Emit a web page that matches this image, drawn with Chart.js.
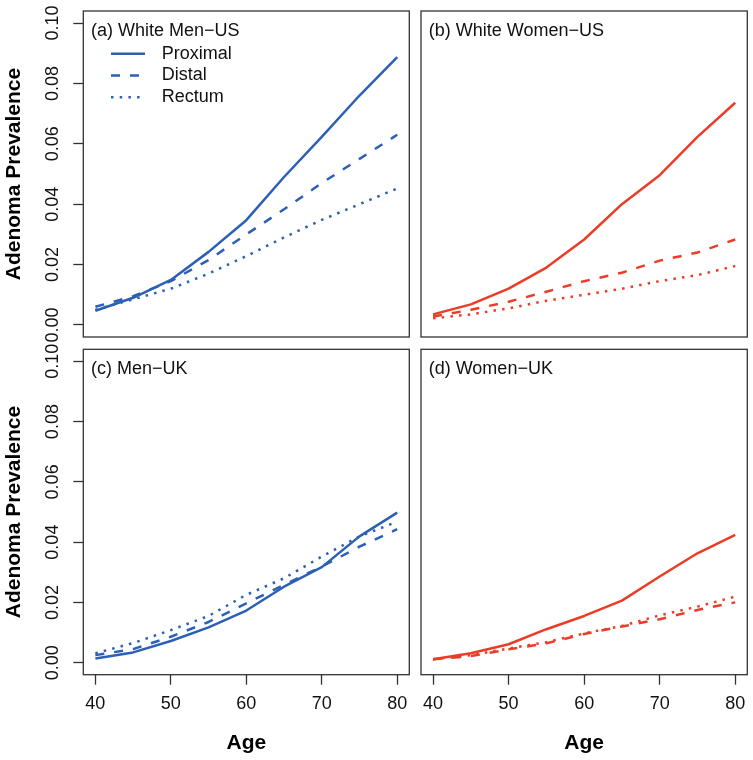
<!DOCTYPE html>
<html><head><meta charset="utf-8">
<script src="https://cdn.jsdelivr.net/npm/chart.js@4/dist/chart.umd.min.js"></script>
<style>
html,body{margin:0;padding:0;background:#fff;}
#wrap{position:relative;width:753px;height:760px;overflow:hidden;}
canvas{position:absolute;}
</style></head><body>
<div id="wrap">
<canvas id="pa" width="412" height="350" style="left:0;top:0"></canvas>
<canvas id="pb" width="341" height="350" style="left:412px;top:0"></canvas>
<canvas id="pc" width="412" height="420" style="left:0;top:340px"></canvas>
<canvas id="pd" width="341" height="420" style="left:412px;top:340px"></canvas>
</div>
<script>
// ---- data ----
const ages = [40, 45, 50, 55, 60, 65, 70, 75, 80];
const seriesNames = ['Proximal', 'Distal', 'Rectum'];
const panelTitles = ['(a) White Men\u2212US', '(b) White Women\u2212US', '(c) Men\u2212UK', '(d) Women\u2212UK'];
const yTickValues = [0.00, 0.02, 0.04, 0.06, 0.08, 0.10];
const xTickValues = [40, 50, 60, 70, 80];
const xAxisLabel = 'Age';
const yAxisLabel = 'Adenoma Prevalence';

const menUSProximal = [0.0047, 0.0090, 0.0149, 0.0242, 0.0347, 0.0490, 0.0623, 0.0760, 0.0887];
const menUSDistal   = [0.0060, 0.0095, 0.0145, 0.0215, 0.0300, 0.0383, 0.0470, 0.0550, 0.0630];
const menUSRectum   = [0.0050, 0.0085, 0.0120, 0.0170, 0.0228, 0.0290, 0.0348, 0.0400, 0.0452];

const womenUSProximal = [0.0035, 0.0068, 0.0120, 0.0190, 0.0283, 0.0400, 0.0496, 0.0623, 0.0736];
const womenUSDistal   = [0.0028, 0.0050, 0.0077, 0.0110, 0.0145, 0.0173, 0.0213, 0.0240, 0.0283];
const womenUSRectum   = [0.0022, 0.0035, 0.0055, 0.0080, 0.0100, 0.0120, 0.0145, 0.0165, 0.0195];

const menUKProximal = [0.0014, 0.0034, 0.0072, 0.0117, 0.0173, 0.0252, 0.0317, 0.0419, 0.0498];
const menUKDistal   = [0.0025, 0.0045, 0.0086, 0.0135, 0.0197, 0.0258, 0.0319, 0.0385, 0.0443];
const menUKRectum   = [0.0031, 0.0065, 0.0108, 0.0155, 0.0225, 0.0280, 0.0352, 0.0419, 0.0468];

const womenUKProximal = [0.0011, 0.0031, 0.0061, 0.0111, 0.0155, 0.0206, 0.0286, 0.0363, 0.0424];
const womenUKDistal   = [0.0011, 0.0022, 0.0044, 0.0064, 0.0095, 0.0120, 0.0144, 0.0175, 0.0200];
const womenUKRectum   = [0.0011, 0.0025, 0.0047, 0.0068, 0.0097, 0.0122, 0.0157, 0.0186, 0.0219];

// ---- styling ----
const BLUE = '#2B60B4';
const RED = '#EA3D27';
const FONT = '"Liberation Sans", Arial, Helvetica, sans-serif';
const dashes = [[], [9, 10], [2.5, 6.2]];
Chart.defaults.font.family = FONT;
Chart.defaults.color = '#111';

const panelDecor = {
  id: 'panelDecor',
  afterDatasetsDraw(chart, args, opts) {
    const {ctx, chartArea: a} = chart;
    ctx.save();
    ctx.strokeStyle = '#333';
    ctx.lineWidth = 1.3;
    ctx.setLineDash([]);
    ctx.strokeRect(a.left, a.top, a.right - a.left, a.bottom - a.top);
    ctx.fillStyle = '#111';
    ctx.font = '18px ' + FONT;
    ctx.textAlign = 'left';
    ctx.textBaseline = 'alphabetic';
    ctx.fillText(opts.title, a.left + 7.7, a.top + 25);
    if (opts.legend) {
      chart.data.datasets.forEach((ds, i) => {
        const y = a.top + 42.7 + i * 21.8;
        ctx.strokeStyle = ds.borderColor;
        ctx.lineWidth = ds.borderWidth;
        ctx.lineCap = 'butt';
        ctx.setLineDash(ds.borderDash || []);
        ctx.beginPath();
        ctx.moveTo(a.left + 27.7, y);
        ctx.lineTo(a.left + 61.7, y);
        ctx.stroke();
        ctx.setLineDash([]);
        ctx.textBaseline = 'middle';
        ctx.fillText(ds.label, a.left + 78.4, y);
      });
    }
    ctx.restore();
  }
};

function zeroPad(s) {
  s.paddingLeft = 0; s.paddingRight = 0; s.paddingTop = 0; s.paddingBottom = 0;
}

function makePanel(id, title, values, color, o) {
  const datasets = values.map((vals, i) => ({
    label: seriesNames[i],
    data: ages.map((a, k) => ({x: a, y: vals[k]})),
    borderColor: color,
    backgroundColor: color,
    borderWidth: 2.5,
    borderDash: dashes[i],
    borderCapStyle: 'butt',
    borderJoinStyle: 'round',
    pointRadius: 0,
    tension: 0,
    fill: false
  }));
  return new Chart(document.getElementById(id), {
    type: 'line',
    data: {datasets},
    plugins: [panelDecor],
    options: {
      responsive: false,
      animation: false,
      devicePixelRatio: 1,
      layout: {padding: o.padding},
      plugins: {
        legend: {display: false},
        tooltip: {enabled: false},
        panelDecor: {title, legend: !!o.legend}
      },
      scales: {
        x: {
          type: 'linear', min: 38.4, max: 81.6,
          display: o.showX,
          afterFit: s => { zeroPad(s); if (o.showX) s.height = 85.3; },
          afterBuildTicks: s => { s.ticks = xTickValues.map(v => ({value: v})); },
          ticks: {autoSkip: false, maxRotation: 0, minRotation: 0, padding: 8.5, color: '#111',
                  font: {size: 18}, callback: v => String(v)},
          grid: {drawOnChartArea: false, drawTicks: true, tickLength: 10, tickColor: '#333', tickWidth: 1.3},
          border: {display: false},
          title: {display: true, text: xAxisLabel, color: '#000',
                  font: {size: 21, weight: 'bold'}, padding: {top: 0, bottom: 4.4}}
        },
        y: {
          type: 'linear', min: -0.004, max: 0.104,
          display: o.showY,
          afterFit: s => { zeroPad(s); if (o.showY) s.width = 83.3; },
          afterBuildTicks: s => { s.ticks = yTickValues.map(v => ({value: v})); },
          ticks: {autoSkip: false, minRotation: 90, maxRotation: 90, crossAlign: 'center', padding: 2.5,
                  color: '#111', font: {size: 18}, callback: v => Number(v).toFixed(2)},
          grid: {drawOnChartArea: false, drawTicks: true, tickLength: 10, tickColor: '#333', tickWidth: 1.3},
          border: {display: false},
          title: {display: true, text: yAxisLabel, color: '#000',
                  font: {size: 21, weight: 'bold'}, padding: {top: 2, bottom: 0}}
        }
      }
    }
  });
}

makePanel('pa', panelTitles[0], [menUSProximal, menUSDistal, menUSRectum], BLUE,
  {showX: false, showY: true, legend: true, padding: {top: 11, right: 2.7, bottom: 13, left: 0}});
makePanel('pb', panelTitles[1], [womenUSProximal, womenUSDistal, womenUSRectum], RED,
  {showX: false, showY: false, padding: {top: 11, right: 5.7, bottom: 13, left: 9}});
makePanel('pc', panelTitles[2], [menUKProximal, menUKDistal, menUKRectum], BLUE,
  {showX: true, showY: true, padding: {top: 9.3, right: 2.7, bottom: 0, left: 0}});
makePanel('pd', panelTitles[3], [womenUKProximal, womenUKDistal, womenUKRectum], RED,
  {showX: true, showY: false, padding: {top: 9.3, right: 5.7, bottom: 0, left: 9}});
</script>
</body></html>
